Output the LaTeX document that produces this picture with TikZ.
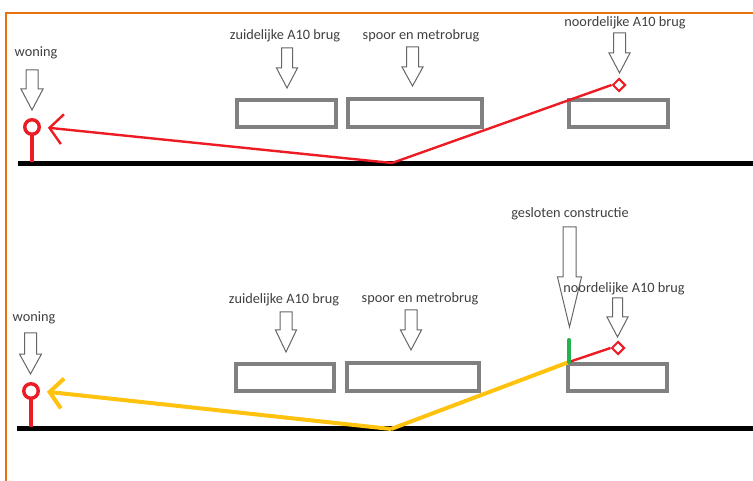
\documentclass[tikz,border=0pt]{standalone}
\usepackage{fontspec}
\setmainfont{Carlito}
\usetikzlibrary{arrows.meta,shapes.geometric}
\definecolor{frameorange}{HTML}{E8700F}
\definecolor{pinred}{HTML}{ED1C24}
\definecolor{raygold}{HTML}{FFC20E}
\definecolor{wallgreen}{HTML}{22B14C}
\definecolor{boxgray}{HTML}{808080}
\definecolor{labelgray}{HTML}{404040}
\tikzset{
  lbl/.style={font=\fontsize{14.3}{16}\selectfont, text=labelgray, inner sep=0pt},
  deck/.style={draw=boxgray, line width=3.8pt, fill=white},
  ground/.style={line width=4.5pt, black},
  blockarr/.style={draw=labelgray!80, line width=1pt, fill=white, line join=miter},
  pinhead/.style={circle, draw=pinred, line width=3.4pt, minimum size=14.5pt, inner sep=0pt, fill=white},
  pinstem/.style={pinred, line width=3.2pt},
  source/.style={diamond, draw=pinred, line width=2pt, minimum size=13pt, inner sep=0pt, fill=white},
  redray/.style={pinred, line width=2.4pt},
  goldray/.style={raygold, line width=4pt},
  barb/.style={-{Straight Barb[length=13pt,width=30pt]}},
}
% downward hollow arrow: centre x, top y, head start y, tip y, shaft half width, head half width
\newcommand\hollowdown[6]{%
  \draw[blockarr] (#1-#5,#2) -- (#1+#5,#2) -- (#1+#5,#3) -- (#1+#6,#3) -- (#1,#4)
    -- (#1-#6,#3) -- (#1-#5,#3) -- cycle;}
\begin{document}
\begin{tikzpicture}[x=1pt,y=-1pt]
\useasboundingbox (0,0) rectangle (753,481);
\fill[white] (0,0) rectangle (753,481);
% frame
\draw[frameorange, line width=2pt] (6,481) -- (6,13) -- (753,13);

% ================= upper situation =================
\draw[ground] (18,163.5) -- (753,163.5);
\draw[deck] (237,100) rectangle (336,127);
\draw[deck] (348,99) rectangle (482,127);
\draw[deck] (569,100) rectangle (668,127);

\node[lbl] (w1) at (36,53) {woning};
\hollowdown{32}{70}{89}{110}{6}{11}
\node[lbl] (z1) at (285,36) {zuidelijke A10 brug};
\hollowdown{287}{48}{68}{88}{5.5}{10.5}
\node[lbl] (s1) at (421,36) {spoor en metrobrug};
\hollowdown{412.5}{47}{67}{86}{6}{10.5}
\node[lbl] (n1) at (625,23) {noordelijke A10 brug};
\hollowdown{619.5}{33}{53}{73}{6}{10.5}

\draw[pinstem] (32,134) -- (32,162);
\node[pinhead] (p1) at (32,127) {};
\node[source] (d1) at (619,85) {};
\coordinate (g1) at (392,163);
\draw[redray] (d1.west) -- (g1);
\draw[redray, barb, shorten >=7pt] (g1) -- (p1.east);

% ================= lower situation =================
\draw[ground] (17,428.5) -- (753,428.5);
\draw[deck] (236,364) rectangle (334,391);
\draw[deck] (347,363) rectangle (479,391);
\draw[deck] (568,364) rectangle (667,391);

\node[lbl] (w2) at (34,318) {woning};
\hollowdown{30.5}{333}{354}{374}{6}{11}
\node[lbl] (z2) at (284,300) {zuidelijke A10 brug};
\hollowdown{286}{312}{330}{352}{6}{10.5}
\node[lbl] (s2) at (420,299) {spoor en metrobrug};
\hollowdown{411}{310}{330}{350}{6}{10.5}
\node[lbl] (c2) at (570,214) {gesloten constructie};
\hollowdown{569.5}{227}{277}{327}{6.5}{12}
\node[lbl] (n2) at (624,289) {noordelijke A10 brug};
\hollowdown{617.5}{298}{317}{337}{5}{10.5}

\draw[pinstem] (31,398) -- (31,427);
\node[pinhead] (p2) at (31,391) {};
\node[source] (d2) at (618,348) {};
\coordinate (j2) at (569,362);
\coordinate (wtop) at (569,340);
\coordinate (g2) at (391,429);
\draw[redray] (d2.west) -- (j2);
\draw[goldray, line join=round] (j2) -- (g2);
\draw[goldray, barb, shorten >=7pt] (g2) -- (p2.east);
\draw[wallgreen, line width=4pt, line cap=round] (wtop) -- (j2);
\end{tikzpicture}
\end{document}
